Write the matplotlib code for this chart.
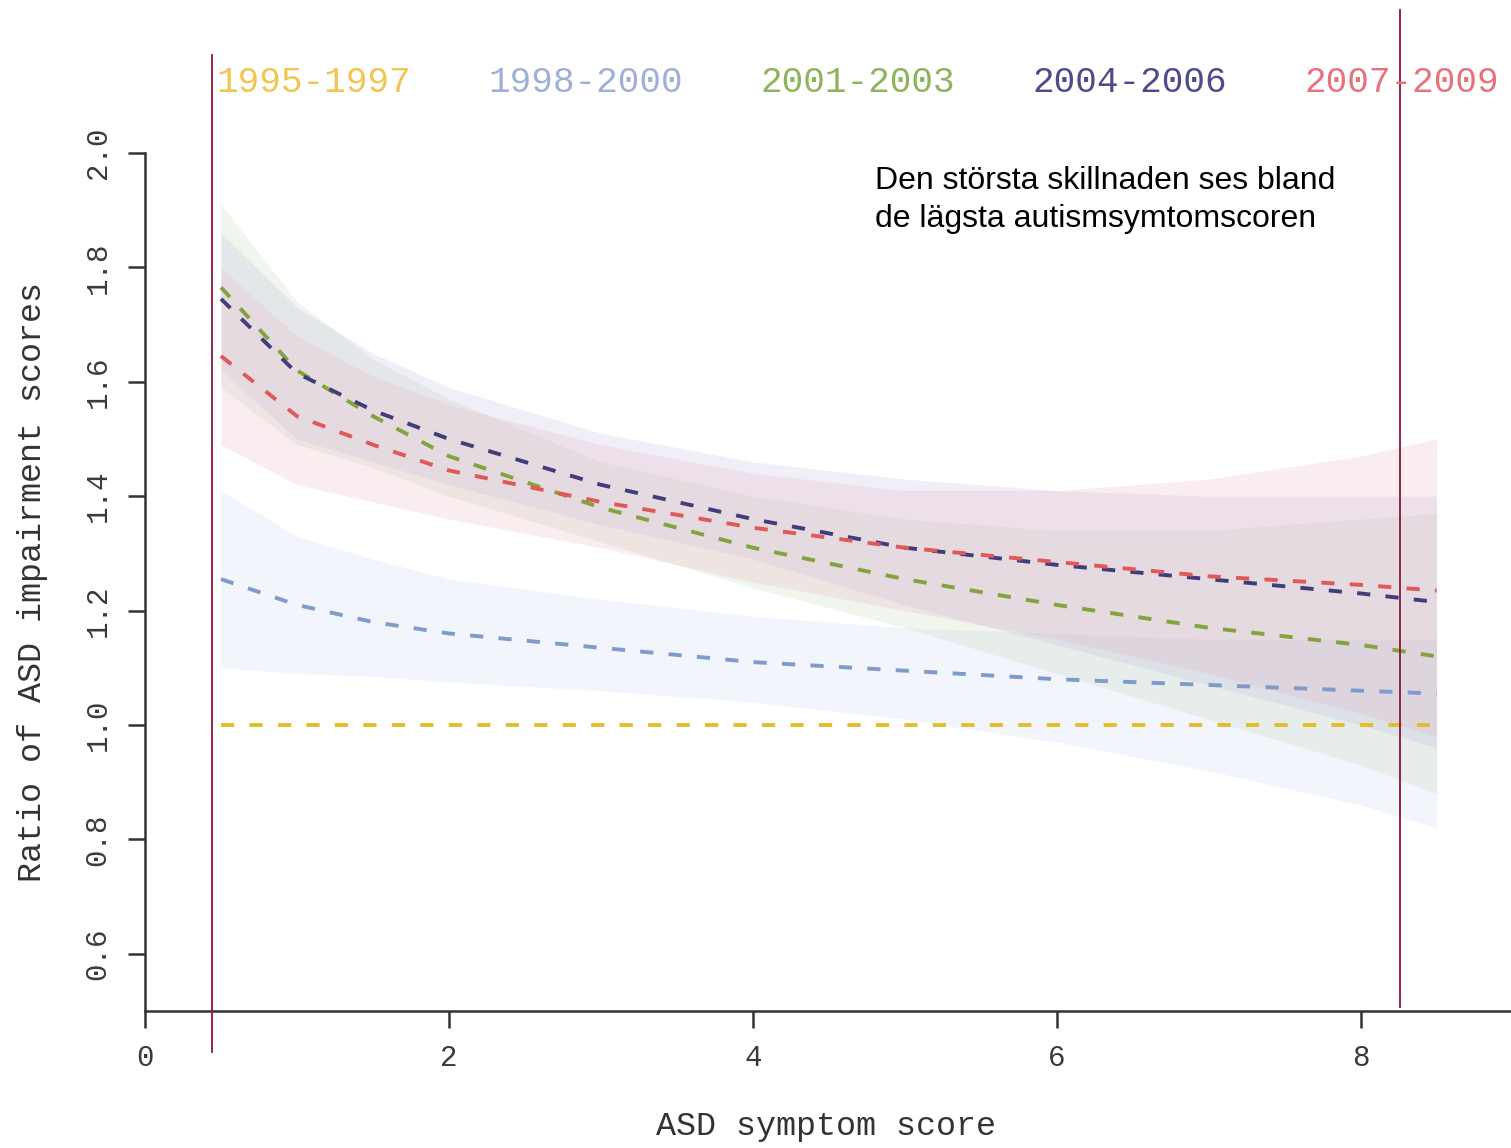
import numpy as np
import matplotlib
matplotlib.use("Agg")
import matplotlib.pyplot as plt
from matplotlib.lines import Line2D

# ==========================================
# data
# ==========================================
x_score = [0.5, 1, 1.5, 2, 3, 4, 5, 6, 7, 8, 8.5]

periods = ["1995-1997", "1998-2000", "2001-2003", "2004-2006", "2007-2009"]

ratio_1995 = [1.0, 1.0, 1.0, 1.0, 1.0, 1.0, 1.0, 1.0, 1.0, 1.0, 1.0]

ratio_1998 = [1.255, 1.21, 1.18, 1.16, 1.135, 1.11, 1.095, 1.08, 1.07, 1.06, 1.055]
upper_1998 = [1.41, 1.33, 1.29, 1.255, 1.22, 1.19, 1.17, 1.16, 1.15, 1.15, 1.15]
lower_1998 = [1.10, 1.09, 1.085, 1.075, 1.06, 1.04, 1.01, 0.97, 0.92, 0.86, 0.82]

ratio_2001 = [1.765, 1.62, 1.54, 1.47, 1.38, 1.31, 1.255, 1.21, 1.17, 1.14, 1.12]
upper_2001 = [1.91, 1.74, 1.64, 1.57, 1.46, 1.40, 1.36, 1.34, 1.34, 1.36, 1.37]
lower_2001 = [1.59, 1.49, 1.45, 1.40, 1.32, 1.24, 1.17, 1.09, 1.01, 0.93, 0.88]

ratio_2004 = [1.745, 1.615, 1.55, 1.50, 1.42, 1.36, 1.31, 1.28, 1.255, 1.23, 1.215]
upper_2004 = [1.86, 1.73, 1.65, 1.59, 1.51, 1.46, 1.43, 1.41, 1.40, 1.40, 1.40]
lower_2004 = [1.62, 1.50, 1.46, 1.42, 1.35, 1.29, 1.21, 1.14, 1.07, 1.00, 0.96]

ratio_2007 = [1.645, 1.54, 1.49, 1.445, 1.39, 1.345, 1.31, 1.285, 1.26, 1.245, 1.235]
upper_2007 = [1.80, 1.68, 1.61, 1.56, 1.49, 1.44, 1.41, 1.41, 1.43, 1.47, 1.50]
lower_2007 = [1.49, 1.42, 1.39, 1.36, 1.31, 1.25, 1.20, 1.15, 1.09, 1.02, 0.98]

line_colors = ["#e3bd2a", "#7f9bcb", "#83a33e", "#403d7c", "#e05858"]
text_colors = ["#f0c552", "#9fb0d8", "#8cb45a", "#4d4b8c", "#e8727c"]
band_colors = [None, "#c3d0f0", "#b5cfa5", "#b8b0dc", "#eaa8b8"]

mono = "Liberation Mono"
plt.rcParams["lines.scale_dashes"] = False

fig = plt.figure(figsize=(15.11, 11.48), dpi=100)
ax = fig.add_axes([145 / 1511, 1 - 1011 / 1148, 1366 / 1511, 858 / 1148])

means = [ratio_1995, ratio_1998, ratio_2001, ratio_2004, ratio_2007]
uppers = [None, upper_1998, upper_2001, upper_2004, upper_2007]
lowers = [None, lower_1998, lower_2001, lower_2004, lower_2007]

# konfidensband först, linjerna ovanpå
for up, lo, bc in zip(uppers, lowers, band_colors):
    if up is None:
        continue
    ax.fill_between(x_score, lo, up, color=bc, alpha=0.2, lw=0)

for m, c in zip(means, line_colors):
    ax.plot(x_score, m, color=c, lw=2.8, dashes=(9.5, 11))

ax.set_xlim(0, 8.99)
ax.set_ylim(0.5, 2.0)
ax.set_xticks([0, 2, 4, 6, 8])
ax.set_yticks([0.6, 0.8, 1.0, 1.2, 1.4, 1.6, 1.8, 2.0])
ax.set_yticklabels(["0.6", "0.8", "1.0", "1.2", "1.4", "1.6", "1.8", "2.0"],
                   rotation=90, va="center")
ax.spines["top"].set_visible(False)
ax.spines["right"].set_visible(False)
for s in ("left", "bottom"):
    ax.spines[s].set_linewidth(1.8)
    ax.spines[s].set_color("#333333")
ax.tick_params(length=12, width=1.8, color="#333333", labelsize=21,
               labelcolor="#3a3a3a")
ax.tick_params(axis="y", pad=12)
ax.tick_params(axis="x", pad=12)
for lab in ax.get_xticklabels() + ax.get_yticklabels():
    lab.set_fontfamily(mono)

ax.set_xlabel("ASD symptom score", fontsize=24, fontfamily=mono, color="#333333")
ax.xaxis.set_label_coords(0.4985, -0.135)
ax.xaxis.label.set_verticalalignment("center")
ax.set_ylabel("Ratio of ASD impairment scores", fontsize=24, fontfamily=mono,
              color="#333333")
ax.yaxis.set_label_coords(-0.0827, 0.5)
ax.yaxis.label.set_verticalalignment("center")

# legend som färgad text överst
legend_x = [314, 586, 858, 1130, 1402]
for lx, p, tc in zip(legend_x, periods, text_colors):
    fig.text(lx / 1511, 1 - 83 / 1148, p, ha="center", va="center",
             fontsize=26, fontfamily=mono, color=tc)

fig.text(875 / 1511, 1 - 166 / 1148,
         "Den största skillnaden ses bland\nde lägsta autismsymtomscoren",
         ha="left", va="top", fontsize=23, fontfamily="Liberation Sans",
         color="black", linespacing=1.36)

# röda markeringslinjer
fig.add_artist(Line2D([212 / 1511, 212 / 1511], [1 - 55 / 1148, 1 - 1052 / 1148],
                      transform=fig.transFigure, color="#8b1538", lw=1.3))
fig.add_artist(Line2D([1400 / 1511, 1400 / 1511], [1 - 10 / 1148, 1 - 1007 / 1148],
                      transform=fig.transFigure, color="#8b1538", lw=1.3))

fig.savefig("out.png", dpi=100)
